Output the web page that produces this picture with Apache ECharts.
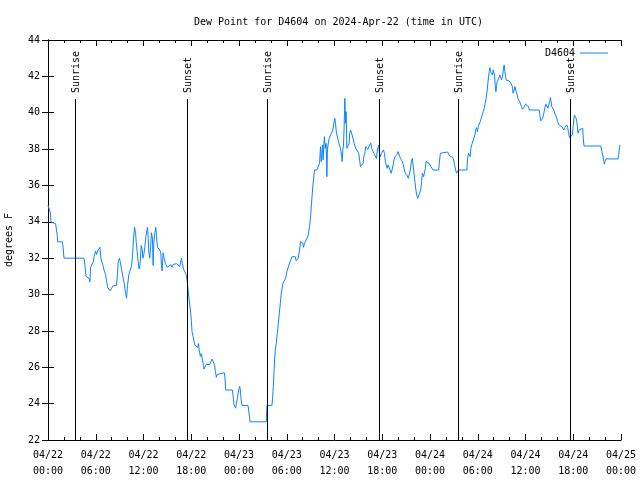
<!DOCTYPE html>
<html>
<head>
<meta charset="utf-8">
<script src="https://cdn.jsdelivr.net/npm/echarts@6/dist/echarts.min.js"></script>
<style>
html,body{margin:0;padding:0;background:#fff;}
#chart{width:640px;height:480px;}
</style>
</head>
<body>
<div id="chart"></div>
<script>
// Hours since 2024-04-22 00:00 UTC
const times = [
0,0.21,0.3,0.38,0.54,0.96,1.05,1.17,1.21,1.8,1.9,2.01,4.52,4.6,4.77,5.14,5.2,5.27,5.35,5.5,
5.69,5.81,5.98,6.1,6.23,6.4,6.52,6.65,6.94,7.07,7.23,7.36,7.49,7.65,7.82,7.99,8.2,8.61,8.74,8.82,
8.99,9.07,9.24,9.45,9.58,9.74,9.87,9.99,10.16,10.33,10.5,10.62,10.75,10.87,11.0,11.08,11.21,11.33,11.46,11.58,
11.71,11.83,11.92,12.04,12.17,12.29,12.42,12.5,12.59,12.67,12.79,12.88,13.0,13.13,13.21,13.3,13.42,13.55,13.63,13.76,
13.92,14.05,14.17,14.26,14.34,14.47,14.59,14.76,15.01,15.18,15.43,15.6,15.72,15.93,16.14,16.35,16.56,16.77,16.89,17.02,
17.19,17.35,17.44,
17.52,17.6,17.73,17.9,18.02,18.1,18.23,18.36,18.48,18.56,18.69,18.81,18.9,19.02,19.15,19.27,19.4,19.53,19.61,19.74,
19.86,20.32,20.45,20.61,20.86,20.95,21.03,21.16,21.24,21.37,22.16,22.24,22.33,23.16,23.29,23.37,23.5,23.58,23.67,23.79,
23.96,24.08,24.17,24.25,24.38,25.13,25.21,25.34,25.38,27.43,27.47,27.51,28.14,28.22,28.31,28.39,28.47,28.56,28.68,28.81,
28.94,29.06,29.19,
29.31,29.52,29.73,29.85,30.02,30.27,30.48,30.65,30.86,31.07,31.19,31.32,31.44,31.61,31.73,31.9,32.03,32.11,32.24,32.36,
32.53,32.7,32.86,32.99,33.11,33.24,33.36,33.49,33.62,33.78,34.03,34.12,34.24,34.33,34.41,34.49,34.58,34.66,34.74,34.83,
34.95,35.04,35.12,35.25,35.33,35.46,35.62,35.79,35.92,36.04,36.12,36.25,36.38,36.5,36.63,36.75,36.88,36.96,37.04,37.13,
37.21,37.3,37.38,37.46,37.55,37.63,37.76,37.84,37.92,38.01,38.13,38.22,38.34,38.47,38.55,38.68,38.8,38.93,39.05,39.18,
39.26,39.47,39.59,39.68,39.8,39.93,40.05,40.18,40.31,40.43,40.56,40.68,40.81,40.93,41.06,41.18,41.27,41.39,41.48,41.56,
41.64,41.77,41.89,42.02,42.15,42.27,42.4,42.52,42.61,42.73,42.86,42.98,43.11,43.23,43.36,43.48,43.61,43.73,43.86,43.99,
44.07,44.15,44.28,44.4,44.53,44.65,44.78,44.9,45.03,45.16,45.28,45.41,45.53,45.66,45.78,45.87,45.95,46.08,46.2,46.33,
46.45,46.58,46.7,46.83,46.95,47.04,47.12,47.2,47.29,47.41,47.5,47.62,47.75,47.87,48.0,48.12,48.25,48.38,49.09,49.17,
49.3,49.42,50.21,50.34,50.47,50.63,50.84,50.97,51.09,51.22,51.34,51.47,
51.6,52.64,52.72,52.85,52.97,53.06,53.14,53.27,53.39,53.52,53.64,53.73,53.85,53.98,54.06,54.19,54.31,54.44,54.56,54.69,
54.81,54.94,55.06,55.19,55.31,55.44,55.52,55.61,55.69,55.77,55.86,55.94,56.03,56.11,56.19,56.28,56.36,56.44,56.53,56.65,
56.78,56.9,56.99,57.11,57.24,57.32,57.41,57.49,57.57,57.95,58.16,58.28,58.37,58.45,58.58,58.66,58.74,58.83,58.95,59.04,
59.16,59.25,59.37,59.5,59.62,59.75,59.87,60.0,60.25,60.37,60.5,61.71,61.8,61.92,62.05,62.17,62.3,62.42,62.55,62.67,
62.8,62.92,63.05,63.13,63.22,63.3,63.43,63.55,63.68,63.8,63.93,64.05,64.18,64.3,64.43,64.56,64.68,64.81,64.93,65.06,
65.18,65.31,65.39,65.52,65.64,65.77,65.89,65.98,66.06,66.14,66.27,66.35,66.44,66.52,66.6,66.73,66.86,66.98,67.19,67.27,
67.36,69.45,69.57,69.7,69.82,69.91,69.99,70.12,71.62,71.71,71.79,71.87
];
const dewPoint = [
34.9,34.9,34.5,34.0,33.9,33.9,33.6,33.25,32.9,32.9,32.6,32.0,32.0,31.8,31.0,30.9,30.8,30.7,31.5,31.6,
31.8,32.1,32.4,32.2,32.4,32.45,32.6,32.0,31.55,31.3,31.1,30.75,30.4,30.3,30.2,30.35,30.5,30.5,31.2,31.8,
32.0,31.8,31.4,30.9,30.6,30.1,29.8,30.5,31.1,31.2,31.6,32.2,33.1,33.7,33.4,32.9,32.35,31.8,31.4,31.7,
32.7,32.5,32.0,32.2,32.6,33.2,33.5,33.7,33.1,32.3,32.0,32.5,33.4,33.1,31.6,32.9,33.4,33.7,33.2,32.6,
32.5,32.45,32.3,31.6,31.3,32.3,32.0,31.7,31.5,31.4,31.65,31.5,31.65,31.55,31.7,31.65,31.55,32.0,31.7,31.4,
31.25,31.1,30.9,
30.6,30.25,29.7,29.15,28.5,27.95,27.7,27.4,27.2,27.1,27.3,27.1,27.3,26.9,26.6,26.75,26.75,26.1,25.9,26.0,
26.15,26.15,26.3,26.45,26.45,26.1,25.75,25.45,25.6,25.7,25.7,25.4,24.75,24.75,24.3,23.95,23.85,23.75,24.0,24.3,
24.75,24.95,24.75,24.3,23.9,23.9,23.65,23.2,23.0,23.0,23.5,23.9,23.9,24.3,24.95,25.65,26.4,26.95,27.3,27.85,
28.4,28.95,29.5,
30.07,30.62,30.71,30.89,31.26,31.62,31.86,32.08,32.12,32.08,31.86,31.77,31.99,32.45,32.91,32.91,32.82,32.6,32.82,32.91,
33.09,33.27,33.73,34.28,35.02,35.75,36.3,36.85,36.94,36.85,36.85,37.22,38.13,37.31,37.77,38.22,37.4,38.32,38.68,38.04,
38.32,36.48,38.04,38.04,38.59,38.68,38.87,39.05,39.42,39.69,39.42,38.87,38.87,38.41,38.32,38.04,37.67,37.31,37.95,38.22,
39.23,40.79,39.42,40.06,38.04,37.95,38.13,38.32,38.87,39.05,39.05,38.77,38.68,38.32,38.22,38.04,37.99,37.95,37.77,37.31,
37.03,37.03,37.22,37.58,37.77,38.13,38.04,37.99,38.13,38.22,38.32,38.04,37.95,37.77,37.86,37.67,37.49,37.95,38.04,38.22,
37.77,37.58,37.77,37.86,37.95,37.77,37.31,37.22,36.94,37.13,37.03,36.85,36.67,36.85,37.13,37.4,37.58,37.67,37.71,37.86,
37.95,37.77,37.49,37.4,37.31,37.13,36.85,36.67,36.57,36.52,36.39,36.48,36.85,37.31,37.49,37.4,36.85,36.3,35.84,35.47,
35.29,35.2,35.38,35.75,36.21,36.67,36.76,36.48,36.67,36.94,37.31,37.4,37.25,37.22,37.13,37.03,36.94,36.85,36.85,37.22,
37.77,37.84,37.84,37.77,37.62,37.58,37.55,37.4,37.13,36.85,36.67,36.6,
36.85,36.85,37.5,37.77,37.86,37.59,38.05,38.27,38.38,38.6,38.78,39.05,39.18,38.96,39.24,39.18,39.51,39.6,39.88,40.06,
40.25,40.52,40.8,41.25,41.8,42.26,42.48,42.26,42.17,42.3,42.08,42.35,42.45,42.08,41.53,41.16,41.44,41.71,41.62,41.9,
42.08,41.99,41.8,41.99,42.45,42.63,42.26,41.99,41.8,41.75,41.71,41.53,41.35,41.07,41.25,41.44,41.35,41.16,40.98,40.8,
40.8,40.61,40.52,40.34,40.19,40.19,40.34,40.47,40.47,40.34,40.15,40.15,39.88,39.55,39.55,39.7,39.97,40.25,40.47,40.43,
40.25,40.43,40.61,40.83,40.61,40.34,40.25,40.15,39.97,39.88,39.7,39.51,39.33,39.24,39.37,39.24,39.15,39.05,39.18,39.29,
39.33,39.18,38.96,38.63,38.6,38.6,38.78,39.24,39.6,39.88,39.88,39.7,39.51,39.24,38.87,39.05,39.15,39.05,39.15,38.5,
38.17,38.17,37.95,37.68,37.4,37.17,37.31,37.46,37.46,37.68,38.01,38.23
];
const sunTimes = [3.39, 17.47, 27.51, 41.56, 51.47, 65.64];
const sunLabels = ['Sunrise', 'Sunset', 'Sunrise', 'Sunset', 'Sunrise', 'Sunset'];
const xTickLabels = ['04/22\n00:00','04/22\n06:00','04/22\n12:00','04/22\n18:00','04/23\n00:00','04/23\n06:00',
  '04/23\n12:00','04/23\n18:00','04/24\n00:00','04/24\n06:00','04/24\n12:00','04/24\n18:00','04/25\n00:00'];
const seriesName = 'D4604';
const titleText = 'Dew Point for D4604 on 2024-Apr-22 (time in UTC)';
const yName = 'degrees F';

const FONT = 'DejaVu Sans Mono';
const Y_MIN = 22, Y_MAX = 44, SUN_TOP = 40.75;

const chart = echarts.init(document.getElementById('chart'), null, {renderer: 'canvas'});
const axisCommon = {
  axisLine: {show: true, lineStyle: {color: '#000', width: 1}},
  splitLine: {show: false}
};
const xCommon = Object.assign({}, axisCommon, {
  type: 'value', min: 0, max: 72, interval: 6,
  axisTick: {show: true, inside: true, length: 6, lineStyle: {color: '#000'}},
  minorTick: {show: true, splitNumber: 3, length: 3, lineStyle: {color: '#000'}},
  minorSplitLine: {show: false}
});
const yCommon = Object.assign({}, axisCommon, {
  type: 'value', min: Y_MIN, max: Y_MAX, interval: 2,
  axisTick: {show: true, inside: true, length: 6, lineStyle: {color: '#000'}}
});

chart.setOption({
  animation: false,
  backgroundColor: '#fff',
  title: {
    text: titleText, left: 189, top: 12,
    textStyle: {fontFamily: FONT, fontSize: 10, fontWeight: 'normal', color: '#000'}
  },
  legend: {
    data: [seriesName], right: 27, top: 43, align: 'right',
    icon: 'rect', itemWidth: 28, itemHeight: 1,
    textStyle: {fontFamily: FONT, fontSize: 10, color: '#000'}
  },
  grid: {left: 48, right: 19, top: 40, bottom: 40, containLabel: false, outerBoundsMode: 'none'},
  xAxis: [
    Object.assign({}, xCommon, {
      position: 'bottom',
      axisLabel: {
        show: true, margin: 7, color: '#000', fontFamily: FONT, fontSize: 10, lineHeight: 16,
        formatter: v => xTickLabels[Math.round(v / 6)]
      }
    }),
    Object.assign({}, xCommon, {position: 'top', axisLabel: {show: false}})
  ],
  yAxis: [
    Object.assign({}, yCommon, {
      position: 'left',
      name: yName, nameLocation: 'middle', nameGap: 34, nameRotate: 90,
      nameTextStyle: {fontFamily: FONT, fontSize: 10, color: '#000'},
      axisLabel: {show: true, margin: 8, color: '#000', fontFamily: FONT, fontSize: 10}
    }),
    Object.assign({}, yCommon, {position: 'right', axisLabel: {show: false}})
  ],
  series: [
    {
      name: seriesName, type: 'line', xAxisIndex: 0, yAxisIndex: 0,
      data: times.map((t, i) => [t, dewPoint[i]]),
      symbol: 'none', showSymbol: false,
      lineStyle: {color: '#0a84ff', width: 1},
      itemStyle: {color: '#0a84ff'},
      z: 3
    },
    {
      name: 'sun', type: 'custom', xAxisIndex: 0, yAxisIndex: 0,
      data: sunTimes.map(t => [t, Y_MIN]),
      silent: true, z: 4,
      renderItem: function (params, api) {
        const t = api.value(0);
        const pb = api.coord([t, Y_MIN]);
        const pt = api.coord([t, SUN_TOP]);
        const x = Math.round(pb[0]) + 0.5;
        return {
          type: 'group',
          children: [
            {type: 'line', shape: {x1: x, y1: pb[1], x2: x, y2: pt[1]},
             style: {stroke: '#000', lineWidth: 1}},
            {type: 'text', x: x + 1, y: pt[1] - 6, rotation: Math.PI / 2,
             style: {text: sunLabels[params.dataIndex], fill: '#000',
                     font: '10px "' + FONT + '"', align: 'left', verticalAlign: 'middle'}}
          ]
        };
      }
    }
  ]
});
</script>
</body>
</html>
